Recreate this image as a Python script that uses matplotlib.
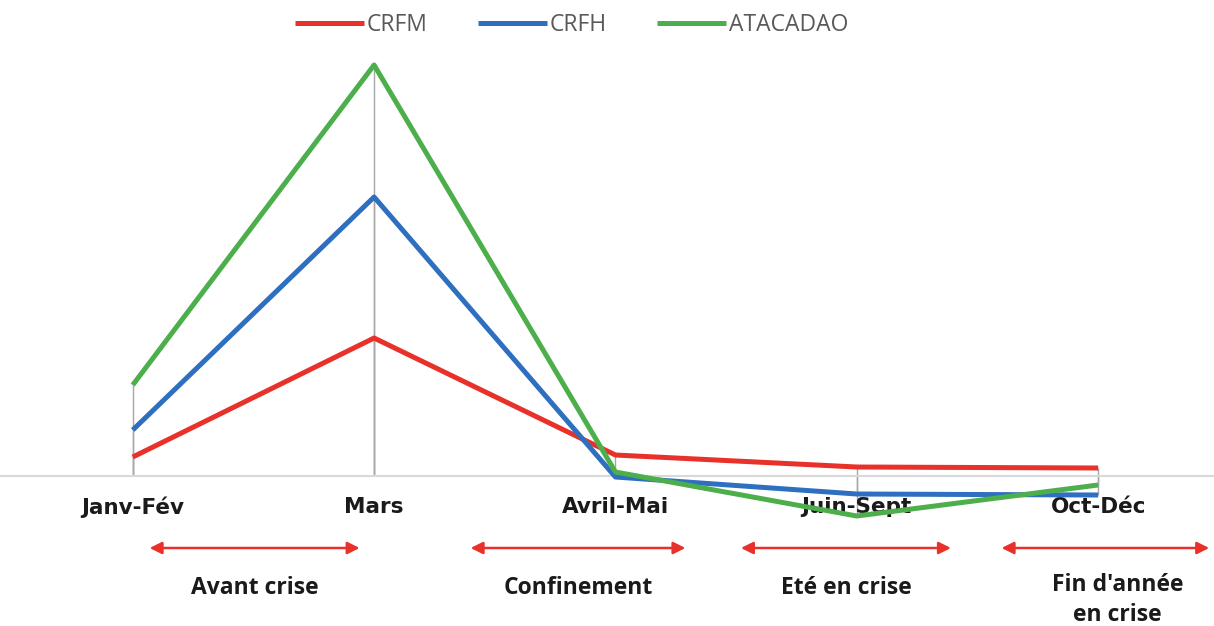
import matplotlib
matplotlib.use('Agg')
import matplotlib.pyplot as plt

# categories and series (arbitrary units)
periodes = ['Janv-Fév', 'Mars', 'Avril-Mai', 'Juin-Sept', 'Oct-Déc']
crfm = [1.9, 13.8, 2.1, 0.9, 0.8]
crfh = [4.6, 27.9, -0.1, -1.8, -1.9]
atacadao = [9.1, 41.1, 0.4, -4.0, -0.9]

phases = ['Avant crise', 'Confinement', 'Eté en crise', "Fin d'année\nen crise"]

series = [('CRFM', crfm, '#e8312a'),
          ('CRFH', crfh, '#2f6fc0'),
          ('ATACADAO', atacadao, '#4caf4c')]

fig = plt.figure(figsize=(12.14, 6.26), dpi=100)
ax = fig.add_axes([0, 0.2396, 1, 0.6805])

x = list(range(len(periodes)))

# drop lines from each point to the axis
for name, vals, col in series:
    ax.vlines(x, 0, vals, color='#a6a6a6', lw=1, zorder=1, clip_on=False)

for name, vals, col in series:
    ax.plot(x, vals, color=col, lw=3.6, label=name, zorder=3, clip_on=False,
            solid_capstyle='butt')

ax.set_xlim(-0.55, 4.48)
ax.set_ylim(0, 42.6)

for s in ['top', 'right', 'left']:
    ax.spines[s].set_visible(False)
ax.spines['bottom'].set_color('#d9d9d9')
ax.spines['bottom'].set_linewidth(1.5)
ax.set_yticks([])
ax.set_xticks(x)
ax.set_xticklabels(periodes, fontsize=15.5, fontweight='bold', family='DejaVu Sans',
                   color='#1a1a1a')
ax.tick_params(axis='x', length=0, pad=15)

# period arrows and labels under the axis
arrow_spans = [(0.07, 0.94), (1.40, 2.29), (2.52, 3.39), (3.60, 4.46)]
for (a, b), lab in zip(arrow_spans, phases):
    ax.annotate('', xy=(a, -7.2), xytext=(b, -7.2), xycoords='data',
                annotation_clip=False,
                arrowprops=dict(arrowstyle='<|-|>', color='#e8312a', lw=1.8,
                                mutation_scale=18, shrinkA=0, shrinkB=0))
    ax.text((a + b) / 2 + (0.05 if '\n' in lab else 0), -11.2 if '\n' not in lab else -12.4,
            lab, ha='center', va='center', fontsize=16.5, fontweight='bold',
            family='Open Sans', color='#1a1a1a', linespacing=1.3, clip_on=False)

fig.legend(loc='upper center', bbox_to_anchor=(0.471, 1.012), ncol=3, frameon=False,
           handlelength=3.0, handletextpad=0.12, columnspacing=2.2,
           prop={'family': 'Open Sans', 'size': 16.5}, labelcolor='#595959')

fig.savefig('out.png', dpi=100)
